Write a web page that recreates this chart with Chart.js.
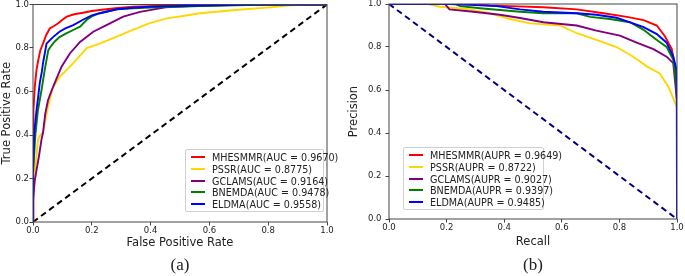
<!DOCTYPE html>
<html>
<head>
<meta charset="utf-8">
<script src="https://cdn.jsdelivr.net/npm/chart.js@4.4.1/dist/chart.umd.min.js"></script>
<style>
  html, body { margin: 0; padding: 0; background: #fff; }
  body { width: 685px; height: 276px; position: relative; overflow: hidden; }
  .box { position: absolute; top: 0; height: 276px; }
  .legend {
    position: absolute; background: rgba(255,255,255,0.85);
    border: 1px solid #d0d0d0; border-radius: 2px;
    font-family: "DejaVu Sans", sans-serif; font-size: 9.6px; color: #222;
    padding: 2px 4px 2px 5px; box-sizing: border-box;
  }
  .legend .row { height: 11.8px; line-height: 11.8px; white-space: nowrap; }
  .legend .swatch { display: inline-block; width: 14px; height: 2px; vertical-align: middle; margin-right: 7px; position: relative; top: -1px; }
  .caption { position: absolute; top: 255px; font-family: "Liberation Serif", "DejaVu Serif", serif; font-size: 17px; color: #222; transform: translateX(-50%); }
</style>
</head>
<body>
<div class="box" id="boxA" style="left:0;width:340px"><canvas id="rocChart"></canvas></div>
<div class="box" id="boxB" style="left:340px;width:345px"><canvas id="prChart"></canvas></div>
<div class="legend" id="legendA" style="left:185px;top:149px;width:139px;height:63px"></div>
<div class="legend" id="legendB" style="left:403px;top:147px;width:141px;height:63px"></div>
<div class="caption" style="left:180px">(a)</div>
<div class="caption" style="left:533px">(b)</div>
<script>
const methods = ["MHESMMR", "PSSR", "GCLAMS", "BNEMDA", "ELDMA"];
const colors = ["#ff0000", "#ffd700", "#800080", "#008000", "#0000ff"];
const aucValues = ["0.9670", "0.8775", "0.9164", "0.9478", "0.9558"];
const auprValues = ["0.9649", "0.8722", "0.9027", "0.9397", "0.9485"];
const axisTicks = [0, 0.2, 0.4, 0.6, 0.8, 1.0];

// ROC curves: false positive rate / true positive rate
const fprMHESMMR = [0, 0, 0.003, 0.006, 0.012, 0.018, 0.025, 0.034, 0.045, 0.057, 0.07, 0.086, 0.1, 0.115, 0.14, 0.17, 0.2, 0.227, 0.28, 0.34, 0.45, 0.6, 1.0];
const tprMHESMMR = [0, 0.3, 0.515, 0.62, 0.7, 0.745, 0.79, 0.82, 0.86, 0.89, 0.9, 0.914, 0.93, 0.944, 0.955, 0.962, 0.97, 0.975, 0.983, 0.99, 0.995, 1.0, 1.0];
const fprPSSR = [0, 0, 0.008, 0.017, 0.025, 0.034, 0.051, 0.068, 0.091, 0.126, 0.15, 0.183, 0.227, 0.285, 0.34, 0.397, 0.455, 0.511, 0.567, 0.69, 0.806, 0.874, 0.95, 1.0];
const tprPSSR = [0, 0.15, 0.25, 0.38, 0.4, 0.41, 0.53, 0.62, 0.668, 0.714, 0.75, 0.8, 0.82, 0.852, 0.883, 0.914, 0.936, 0.947, 0.96, 0.975, 0.987, 0.996, 1.0, 1.0];
const fprGCLAMS = [0, 0, 0.006, 0.012, 0.02, 0.029, 0.034, 0.042, 0.051, 0.062, 0.074, 0.097, 0.126, 0.16, 0.205, 0.25, 0.307, 0.364, 0.45, 0.57, 0.8, 1.0];
const tprGCLAMS = [0, 0.1, 0.19, 0.24, 0.3, 0.38, 0.41, 0.5, 0.56, 0.6, 0.64, 0.714, 0.776, 0.828, 0.875, 0.905, 0.944, 0.966, 0.987, 0.995, 1.0, 1.0];
const fprBNEMDA = [0, 0, 0.008, 0.017, 0.029, 0.04, 0.052, 0.062, 0.074, 0.09, 0.115, 0.14, 0.16, 0.183, 0.2, 0.227, 0.285, 0.34, 0.4, 0.57, 0.8, 1.0];
const tprBNEMDA = [0, 0.22, 0.4, 0.515, 0.607, 0.7, 0.79, 0.81, 0.83, 0.85, 0.868, 0.885, 0.898, 0.93, 0.945, 0.96, 0.978, 0.983, 0.986, 0.993, 1.0, 1.0];
const fprELDMA = [0, 0, 0.005, 0.012, 0.018, 0.023, 0.03, 0.034, 0.046, 0.057, 0.068, 0.09, 0.11, 0.137, 0.17, 0.2, 0.227, 0.285, 0.34, 0.4, 0.57, 0.75, 1.0];
const tprELDMA = [0, 0.25, 0.42, 0.515, 0.58, 0.64, 0.69, 0.73, 0.82, 0.835, 0.85, 0.875, 0.89, 0.905, 0.93, 0.95, 0.96, 0.978, 0.985, 0.99, 0.995, 1.0, 1.0];
const rocChanceX = [0, 1];
const rocChanceY = [0, 1];

// PR curves: recall / precision
const recMHESMMR = [0, 0.29, 0.35, 0.42, 0.536, 0.652, 0.745, 0.826, 0.884, 0.93, 0.958, 0.982, 0.993, 1.0];
const precMHESMMR = [1, 1, 0.993, 0.99, 0.985, 0.975, 0.957, 0.94, 0.925, 0.9, 0.85, 0.79, 0.71, 0.6];
const recPSSR = [0, 0.135, 0.177, 0.27, 0.35, 0.42, 0.49, 0.594, 0.652, 0.72, 0.79, 0.848, 0.895, 0.94, 0.97, 1.0];
const precPSSR = [1, 1, 0.987, 0.977, 0.957, 0.93, 0.91, 0.9, 0.864, 0.833, 0.8, 0.755, 0.71, 0.677, 0.615, 0.52];
const recGCLAMS = [0, 0.194, 0.21, 0.293, 0.385, 0.455, 0.536, 0.652, 0.72, 0.802, 0.86, 0.918, 0.964, 0.987, 1.0];
const precGCLAMS = [1, 1, 0.975, 0.964, 0.95, 0.935, 0.915, 0.9, 0.876, 0.853, 0.82, 0.79, 0.755, 0.725, 0.55];
const recBNEMDA = [0, 0.23, 0.247, 0.316, 0.385, 0.455, 0.536, 0.652, 0.698, 0.767, 0.837, 0.884, 0.93, 0.964, 0.987, 0.997, 1.0];
const precBNEMDA = [1, 1, 0.99, 0.98, 0.972, 0.964, 0.957, 0.957, 0.94, 0.93, 0.915, 0.88, 0.833, 0.8, 0.74, 0.63, 0.55];
const recELDMA = [0, 0.21, 0.3, 0.374, 0.455, 0.536, 0.652, 0.72, 0.79, 0.837, 0.884, 0.93, 0.964, 0.987, 0.999, 1.0];
const precELDMA = [1, 1, 0.995, 0.99, 0.975, 0.964, 0.957, 0.95, 0.936, 0.915, 0.892, 0.86, 0.82, 0.755, 0.69, 0.0];
const prChanceX = [0, 1];
const prChanceY = [1, 0];

const rocX = [fprMHESMMR, fprPSSR, fprGCLAMS, fprBNEMDA, fprELDMA];
const rocY = [tprMHESMMR, tprPSSR, tprGCLAMS, tprBNEMDA, tprELDMA];
const prX = [recMHESMMR, recPSSR, recGCLAMS, recBNEMDA, recELDMA];
const prY = [precMHESMMR, precPSSR, precGCLAMS, precBNEMDA, precELDMA];

const zip = (xs, ys) => xs.map((x, i) => ({ x, y: ys[i] }));
const tickFont = { family: "DejaVu Sans", size: 8.5 };
const titleFont = { family: "DejaVu Sans", size: 11.5 };

// matplotlib-like box around the plot area
const framePlugin = {
  id: "frame",
  afterDatasetsDraw(chart) {
    const { ctx, chartArea: a } = chart;
    ctx.save();
    ctx.strokeStyle = "#444";
    ctx.lineWidth = 1;
    ctx.strokeRect(a.left, a.top, a.right - a.left, a.bottom - a.top);
    ctx.restore();
  }
};

function buildCurveChart(canvasId, xs, ys, chance, opts) {
  const datasets = methods.map((name, i) => ({
    label: name,
    data: zip(xs[i], ys[i]),
    borderColor: colors[i],
    borderWidth: 1.9,
    pointRadius: 0,
    tension: 0,
    order: methods.length - i
  }));
  datasets.push({
    label: "chance",
    data: zip(chance.x, chance.y),
    borderColor: chance.color,
    borderWidth: 2,
    borderDash: [6, 4],
    pointRadius: 0,
    order: 10
  });

  return new Chart(document.getElementById(canvasId).getContext("2d"), {
    type: "line",
    data: { datasets },
    options: {
      responsive: true,
      maintainAspectRatio: false,
      animation: false,
      layout: { padding: opts.padding },
      plugins: { legend: { display: false }, tooltip: { enabled: false } },
      scales: {
        x: {
          type: "linear", min: 0, max: 1,
          afterBuildTicks: (scale) => { scale.ticks = axisTicks.map((v) => ({ value: v })); },
          afterFit: (scale) => { scale.height = opts.xHeight; scale.paddingLeft = 0; scale.paddingRight = 0; },
          border: { display: false },
          grid: { display: true, drawOnChartArea: false, drawTicks: true, tickLength: 3.5, color: "#444" },
          ticks: { color: "#222", font: tickFont, padding: 0.5, maxRotation: 0, callback: (v) => v.toFixed(1) },
          title: { display: true, text: opts.xTitle, color: "#222", font: titleFont, padding: 0 }
        },
        y: {
          type: "linear", min: 0, max: 1,
          afterBuildTicks: (scale) => { scale.ticks = axisTicks.map((v) => ({ value: v })); },
          afterFit: (scale) => { scale.width = opts.yWidth; scale.paddingTop = 0; scale.paddingBottom = 0; },
          border: { display: false },
          grid: { display: true, drawOnChartArea: false, drawTicks: true, tickLength: 3.5, color: "#444" },
          ticks: { color: "#222", font: tickFont, padding: opts.yTickPad, callback: (v) => v.toFixed(1) },
          title: { display: true, text: opts.yTitle, color: "#222", font: titleFont, padding: { top: opts.yTitlePad, bottom: 0 } }
        }
      }
    },
    plugins: [framePlugin]
  });
}

function buildLegend(elId, metric, values) {
  const el = document.getElementById(elId);
  methods.forEach((name, i) => {
    const row = document.createElement("div");
    row.className = "row";
    const sw = document.createElement("span");
    sw.className = "swatch";
    sw.style.background = colors[i];
    row.appendChild(sw);
    row.appendChild(document.createTextNode(name + "(" + metric + " = " + values[i] + ")"));
    el.appendChild(row);
  });
}

buildCurveChart("rocChart", rocX, rocY, { x: rocChanceX, y: rocChanceY, color: "#000000" }, {
  padding: { left: 0, right: 13, top: 4.5, bottom: 25.6 },
  xHeight: 28.4, yWidth: 33, yTickPad: 0.5, yTitlePad: 0,
  xTitle: "False Positive Rate", yTitle: "True Positive Rate"
});
buildCurveChart("prChart", prX, prY, { x: prChanceX, y: prChanceY, color: "#000080" }, {
  padding: { left: 0, right: 8, top: 4, bottom: 27.4 },
  xHeight: 29.6, yWidth: 49, yTickPad: 4, yTitlePad: 7,
  xTitle: "Recall", yTitle: "Precision"
});
buildLegend("legendA", "AUC", aucValues);
buildLegend("legendB", "AUPR", auprValues);
</script>
</body>
</html>
